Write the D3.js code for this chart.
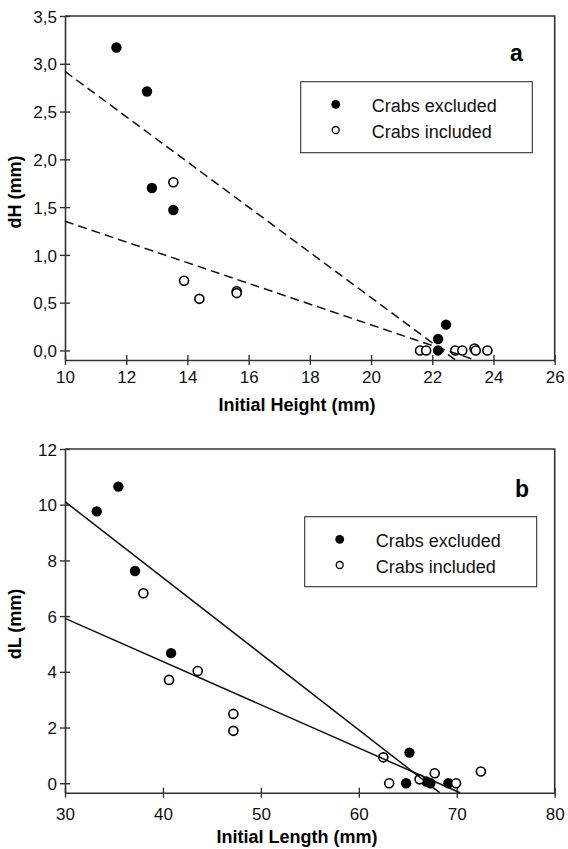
<!DOCTYPE html>
<html>
<head>
<meta charset="utf-8">
<script src="https://cdn.jsdelivr.net/npm/d3@7"></script>
<style>
  html, body { margin: 0; padding: 0; background: #fff; }
  svg { display: block; font-family: "Liberation Sans", Arial, Helvetica, sans-serif; }
  .frame { fill: none; stroke: #333; stroke-width: 1.6; }
  .axis path { stroke: #333; stroke-width: 1.6; }
  .axis line { stroke: #333; stroke-width: 1.4; }
  .axis text { fill: #111; font-size: 17px; }
</style>
</head>
<body>
<svg id="chart" width="568" height="849"></svg>
<script>
// Panel a: initial height vs growth in height (mm)
const heightTicksX = [10, 12, 14, 16, 18, 20, 22, 24, 26];
const heightTicksY = [0, 0.5, 1, 1.5, 2, 2.5, 3, 3.5];
const heightExcluded = [
  [11.68, 3.17], [12.68, 2.71], [12.84, 1.70], [13.54, 1.47],
  [22.45, 0.27], [22.19, 0.12], [22.19, 0.0]
];
const heightIncluded = [
  [13.54, 1.76], [13.89, 0.73], [14.39, 0.54], [15.61, 0.62], [15.61, 0.60],
  [21.6, 0.0], [21.8, 0.0], [22.75, 0.0], [22.98, 0.0], [23.38, 0.02], [23.42, 0.0], [23.8, 0.0]
];
// fitted lines: value at x start and slope per mm
const heightFits = [
  { y0: 2.92, slope: -0.2367 },   // crabs excluded
  { y0: 1.352, slope: -0.1084 }   // crabs included
];

// Panel b: initial length vs growth in length (mm)
const lengthTicksX = [30, 40, 50, 60, 70, 80];
const lengthTicksY = [0, 2, 4, 6, 8, 10, 12];
const lengthExcluded = [
  [33.24, 9.76], [35.45, 10.65], [37.15, 7.62], [40.83, 4.67],
  [65.17, 1.10], [64.83, 0.0], [66.9, 0.06], [67.3, 0.0], [69.15, 0.0]
];
const lengthIncluded = [
  [38.0, 6.82], [40.62, 3.71], [43.55, 4.03], [47.19, 2.49], [47.19, 1.88],
  [62.5, 0.93], [63.1, 0.0], [66.2, 0.14], [67.75, 0.36], [69.93, 0.0], [72.46, 0.42]
];
const lengthFits = [
  { y0: 10.11, slope: -0.2732 },
  { y0: 5.92, slope: -0.1552 }
];

const legendLabels = ['Crabs excluded', 'Crabs included'];

const svg = d3.select('#chart');

function drawPanel(opt) {
  const x = d3.scaleLinear().domain(opt.xDomain).range([65, 554.7]);
  const y = d3.scaleLinear().domain(opt.yDomain).range([opt.bottom, opt.top]);
  const g = svg.append('g');

  // frame top + right
  g.append('path')
    .attr('class', 'frame')
    .attr('d', `M${x.range()[0]},${opt.top}H${x.range()[1]}V${opt.bottom}`);

  // x axis
  const xAxis = g.append('g')
    .attr('class', 'axis')
    .attr('transform', `translate(0,${opt.bottom})`)
    .call(d3.axisBottom(x).tickValues(opt.xTicks).tickSize(5).tickSizeOuter(0).tickFormat(d3.format('d')));
  xAxis.selectAll('.tick line').attr('y1', -5).attr('y2', 5);
  xAxis.selectAll('.tick text').attr('y', opt.xLabelY).attr('dy', 0);

  // y axis
  const yAxis = g.append('g')
    .attr('class', 'axis')
    .attr('transform', `translate(65,0)`)
    .call(d3.axisLeft(y).tickValues(opt.yTicks).tickSize(5).tickSizeOuter(0).tickFormat(opt.yFormat));
  yAxis.selectAll('.tick line').attr('x1', 5).attr('x2', -5);
  yAxis.selectAll('.tick text').attr('x', -8).attr('dy', '0.36em');

  // points
  const drawFilled = () => g.append('g').selectAll('circle')
    .data(opt.excluded).join('circle')
    .attr('cx', d => x(d[0])).attr('cy', d => y(d[1]))
    .attr('r', 5.2).attr('fill', '#000');
  const drawOpen = () => g.append('g').selectAll('circle')
    .data(opt.included).join('circle')
    .attr('cx', d => x(d[0])).attr('cy', d => y(d[1]))
    .attr('r', 4.5).attr('fill', '#fff').attr('stroke', '#000').attr('stroke-width', 1.6);
  if (opt.filledOnTop) { drawOpen(); drawFilled(); } else { drawFilled(); drawOpen(); }

  // fitted lines, from left edge down to the bottom of the axis
  opt.fits.forEach(f => {
    const x0 = opt.xDomain[0];
    const x1 = x0 + (opt.yDomain[0] - f.y0) / f.slope;
    g.append('line')
      .attr('x1', x(x0)).attr('y1', y(f.y0))
      .attr('x2', x(x1)).attr('y2', y(opt.yDomain[0]))
      .attr('stroke', '#111')
      .attr('stroke-width', 1.5)
      .attr('stroke-dasharray', opt.dashed ? '9,5' : null);
  });

  // axis titles
  g.append('text')
    .attr('x', 297).attr('y', opt.xTitleY)
    .attr('text-anchor', 'middle')
    .style('font-size', '18px').style('font-weight', 'bold')
    .text(opt.xTitle);
  g.append('text')
    .attr('transform', `translate(21,${opt.yTitleCenter}) rotate(-90)`)
    .attr('text-anchor', 'middle')
    .style('font-size', '18px').style('font-weight', 'bold')
    .text(opt.yTitle);

  // panel letter
  g.append('text')
    .attr('x', opt.letterX).attr('y', opt.letterY)
    .style('font-size', '23px').style('font-weight', 'bold')
    .text(opt.letter);

  // legend
  const L = opt.legend;
  const leg = g.append('g');
  leg.append('rect')
    .attr('x', L.x).attr('y', L.y).attr('width', L.w).attr('height', L.h)
    .attr('fill', '#fff').attr('stroke', '#333').attr('stroke-width', 1.1);
  legendLabels.forEach((label, i) => {
    const cy = L.y + 22.6 + i * 25.7;
    leg.append('circle')
      .attr('cx', L.x + 35).attr('cy', cy)
      .attr('r', i === 0 ? 4.4 : 3.5)
      .attr('fill', i === 0 ? '#000' : '#fff')
      .attr('stroke', '#000').attr('stroke-width', i === 0 ? 0 : 1.3);
    leg.append('text')
      .attr('x', L.x + 71).attr('y', cy + 8)
      .style('font-size', '18px').attr('fill', '#111')
      .text(label);
  });
}

const commaFormat = d => d3.format('.1f')(d).replace('.', ',');

drawPanel({
  xDomain: [10, 26], yDomain: [-0.1, 3.5], top: 16, bottom: 360,
  xTicks: heightTicksX, yTicks: heightTicksY, yFormat: commaFormat,
  excluded: heightExcluded, included: heightIncluded, filledOnTop: true,
  fits: heightFits, dashed: true,
  xLabelY: 23, xTitleY: 411, xTitle: 'Initial Height (mm)',
  yTitleCenter: 192, yTitle: 'dH (mm)',
  letter: 'a', letterX: 510, letterY: 61,
  legend: { x: 300.7, y: 81.7, w: 231.6, h: 71 }
});

drawPanel({
  xDomain: [30, 80], yDomain: [-0.34, 12], top: 449, bottom: 792.7,
  xTicks: lengthTicksX, yTicks: lengthTicksY, yFormat: d3.format('d'),
  excluded: lengthExcluded, included: lengthIncluded, filledOnTop: false,
  fits: lengthFits, dashed: false,
  xLabelY: 27, xTitleY: 843, xTitle: 'Initial Length (mm)',
  yTitleCenter: 624, yTitle: 'dL (mm)',
  letter: 'b', letterX: 515, letterY: 497,
  legend: { x: 304.7, y: 516.7, w: 232, h: 70 }
});
</script>
</body>
</html>
